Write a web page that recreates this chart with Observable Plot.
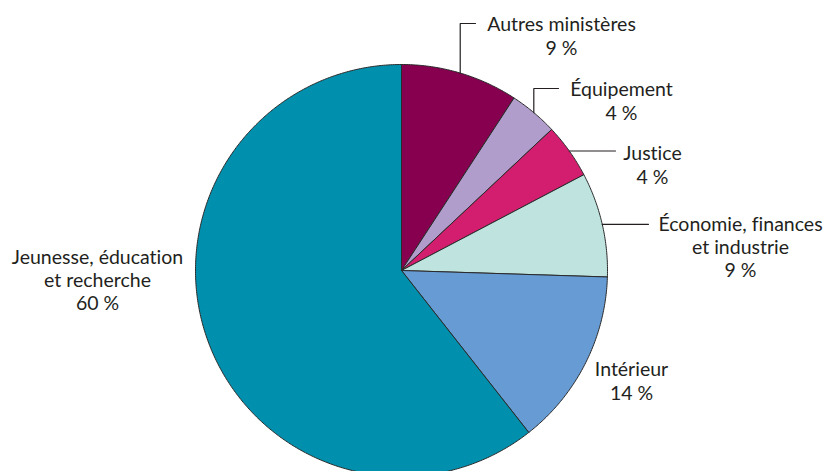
<!DOCTYPE html>
<html>
<head>
<meta charset="utf-8">
<script src="https://cdn.jsdelivr.net/npm/d3@7"></script>
<script src="https://cdn.jsdelivr.net/npm/@observablehq/plot@0.6"></script>
<style>
  html, body { margin: 0; padding: 0; background: #fff; }
  #chart svg { display: block; background: #fff; }
  #chart svg text { font-variant-ligatures: none; }
</style>
</head>
<body>
<div id="chart"></div>
<script>
// ---- Data ----
const categories = [
  "Autres ministères",
  "Équipement",
  "Justice",
  "Économie, finances\net industrie",
  "Intérieur",
  "Jeunesse, éducation\net recherche"
];
const shares = [9.2, 3.8, 4.3, 8.2, 13.9, 60.6];          // share of the pie (%)
const shareLabels = ["9 %", "4 %", "4 %", "9 %", "14 %", "60 %"];

// ---- Styles ----
const colors = ["#870050", "#b19dcc", "#d31d6e", "#bfe4e0", "#679bd3", "#0090ad"];
const ink = "#231f20";

// ---- Layout ----
const W = 825, H = 471;
const cx = 401, cy = 270, R = 206;
// label layout: text centre, optional leader (elbowY = vertical rise to that y; endX = end of horizontal)
const layout = [
  {tx: 561, ty: 35,  leader: true, elbowY: 23,  endX: 475},
  {tx: 621, ty: 100, leader: true, elbowY: 88,  endX: 558},
  {tx: 652, ty: 164, leader: true, elbowY: null, endX: 615},
  {tx: 740, ty: 246, leader: true, elbowY: null, endX: 648},
  {tx: 631, ty: 380, leader: false},
  {tx: 97,  ty: 279, leader: false}
];

const arcs = d3.pie().sort(null).value(d => d)(shares);
const pt = (a, r) => [cx + r * Math.sin(a), cy - r * Math.cos(a)];

// slice outlines computed from the pie angles
const slicePts = [];
arcs.forEach((a, i) => {
  const n = Math.max(2, Math.ceil((a.endAngle - a.startAngle) / (Math.PI / 360)));
  slicePts.push({x: cx, y: cy, k: i});
  for (let j = 0; j <= n; j++) {
    const t = a.startAngle + (a.endAngle - a.startAngle) * j / n;
    const [x, y] = pt(t, R);
    slicePts.push({x, y, k: i});
  }
  slicePts.push({x: cx, y: cy, k: i});
});

// leader lines from the slice mid-angle on the rim
const leaderPts = [];
arcs.forEach((a, i) => {
  const L = layout[i];
  if (!L.leader) return;
  const mid = (a.startAngle + a.endAngle) / 2;
  const [x0, y0] = pt(mid, R);
  leaderPts.push({x: x0, y: y0, k: i});
  if (L.elbowY != null) {
    leaderPts.push({x: x0, y: L.elbowY, k: i});
    leaderPts.push({x: L.endX, y: L.elbowY, k: i});
  } else {
    leaderPts.push({x: L.endX, y: y0, k: i});
  }
});

const labels = categories.map((c, i) => ({
  text: c + "\n" + shareLabels[i],
  x: layout[i].tx,
  y: layout[i].ty
}));

const chart = Plot.plot({
  width: W,
  height: H,
  margin: 0,
  x: {type: "identity", axis: null},
  y: {type: "identity", axis: null},
  color: {type: "identity"},
  style: {fontFamily: "Lato, 'Open Sans', sans-serif", background: "#fff"},
  marks: [
    Plot.line(slicePts, {
      x: "x", y: "y", z: "k",
      fill: d => colors[d.k],
      stroke: "#2a2a2a", strokeWidth: 1, strokeLinejoin: "miter"
    }),
    Plot.line(leaderPts, {
      x: "x", y: "y", z: "k",
      stroke: ink, strokeWidth: 1.2, strokeLinejoin: "miter"
    }),
    Plot.text(labels, {
      x: "x", y: "y", text: "text",
      fontSize: 19.5, lineHeight: 1.2,
      textAnchor: "middle", fill: ink
    })
  ]
});

document.getElementById("chart").appendChild(chart);
</script>
</body>
</html>
